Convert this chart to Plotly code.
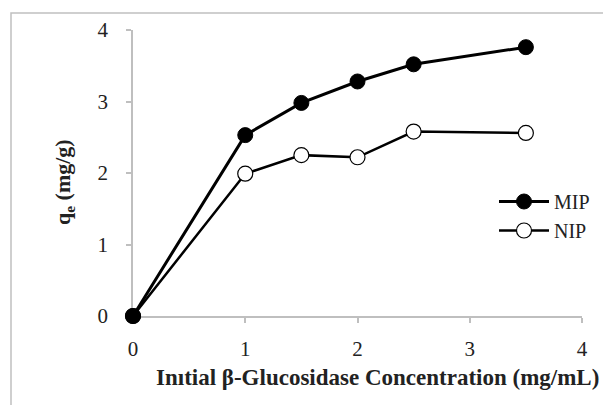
import plotly.graph_objects as go

x_vals = [0, 1, 1.5, 2, 2.5, 3.5]
mip = [0, 2.53, 2.98, 3.28, 3.52, 3.76]
nip = [0, 1.99, 2.25, 2.22, 2.58, 2.56]
tick_vals = [0, 1, 2, 3, 4]
tick_text = ["0", "1", "2", "3", "4"]

font_family = "Liberation Serif"
txt_color = "#222"

fig = go.Figure()
fig.add_trace(go.Scatter(
    x=x_vals, y=nip, name="NIP", mode="lines+markers",
    line=dict(color="black", width=2.5),
    marker=dict(symbol="circle", size=15, color="white", line=dict(color="black", width=1.2)),
    cliponaxis=False,
))
fig.add_trace(go.Scatter(
    x=x_vals, y=mip, name="MIP", mode="lines+markers",
    line=dict(color="black", width=3),
    marker=dict(symbol="circle", size=15, color="black", line=dict(color="black", width=1)),
    cliponaxis=False,
))

# page offset (body margin) compensation
OFF = 8
W, H = 611, 405
# plot area in screen pixels
SX0, SX1, SY0, SY1 = 133, 582, 30, 316
L = SX0 - OFF
R = W - (SX1 - OFF)
T = SY0 - OFF
B = H - (SY1 - OFF)

def px(xs):
    return (xs - SX0) / (SX1 - SX0)

def py(ys):
    return (SY1 - ys) / (SY1 - SY0)

fig.add_shape(type="rect", xref="paper", yref="paper",
              x0=px(11), x1=px(640), y0=py(430), y1=py(13),
              line=dict(color="#c0c0c0", width=1.5), fillcolor="rgba(0,0,0,0)", layer="below")

fig.add_annotation(text="<b>Inıtial β-Glucosidase Concentration (mg/mL)</b>",
                   xref="paper", yref="paper", x=px(377), y=py(377),
                   xanchor="center", yanchor="middle", showarrow=False,
                   font=dict(size=23, family=font_family, color=txt_color))
fig.add_annotation(text="<b>q<sub>e</sub> (mg/g)</b>",
                   xref="paper", yref="paper", x=px(64), y=py(182),
                   xanchor="center", yanchor="middle", showarrow=False, textangle=-90,
                   font=dict(size=22, family=font_family, color=txt_color))

axis_common = dict(range=[0, 4], tickvals=tick_vals, ticktext=tick_text,
                   showgrid=False, zeroline=False, showline=True, linecolor="#bfbfbf", linewidth=1.5,
                   ticks="outside", ticklen=5, tickcolor="#bfbfbf", tickwidth=1.5,
                   tickfont=dict(size=21, family=font_family, color=txt_color),
                   automargin=False, layer="below traces")

fig.update_layout(
    width=W, height=H,
    margin=dict(l=L, r=R, t=T, b=B),
    paper_bgcolor="white", plot_bgcolor="white",
    font=dict(family=font_family, color=txt_color, size=20),
    showlegend=True,
    legend=dict(x=px(494), y=py(182), xanchor="left", yanchor="top",
                font=dict(size=20, family=font_family, color=txt_color),
                bgcolor="rgba(0,0,0,0)", tracegroupgap=10, itemwidth=50,
                traceorder="reversed"),
    xaxis=dict(**axis_common, ticklabelstandoff=8),
    yaxis=dict(**axis_common, ticklabelstandoff=14),
)

fig.write_html("out.html")
